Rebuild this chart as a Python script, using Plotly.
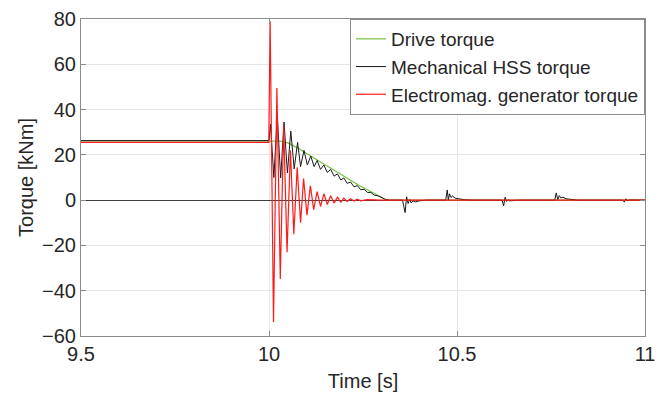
import plotly.graph_objects as go

# ---------------- data ----------------
t_drive = [9.5, 10.0, 10.03, 10.05, 10.075, 10.10, 10.14, 10.18, 10.21, 10.24, 10.27, 10.29, 10.31, 10.32, 11.0]
v_drive = [26.2, 26.2, 26.1, 25.3, 23.2, 20.6, 16.5, 12.3, 9.4, 6.5, 3.8, 1.9, 0.3, 0.0, 0.0]

t_mech = [9.5, 10.0, 10.004, 10.013, 10.022, 10.031, 10.040, 10.049, 10.058, 10.067,
          10.076, 10.084, 10.093, 10.102, 10.111, 10.120, 10.128, 10.137, 10.146, 10.155,
          10.164, 10.173, 10.182, 10.191, 10.199, 10.208, 10.217, 10.226, 10.235, 10.244,
          10.253, 10.262, 10.271, 10.28, 10.29, 10.30, 10.31, 10.32,
          10.355, 10.362, 10.366, 10.370, 10.374, 10.378, 10.383, 10.39, 10.40, 10.42,
          10.47, 10.474, 10.477, 10.480, 10.484, 10.488, 10.495, 10.505, 10.52, 10.54,
          10.62, 10.624, 10.628, 10.632, 10.636, 10.64, 10.65, 10.665,
          10.76, 10.764, 10.768, 10.772, 10.776, 10.782, 10.79, 10.80, 10.82,
          10.94, 10.945, 10.949, 10.953, 10.96, 10.97, 11.0]
v_mech = [26.3, 26.3, 33.5, 10.0, 37.5, 9.8, 34.5, 12.0, 30.5, 13.8,
          25.5, 14.8, 22.0, 15.5, 19.5, 14.8, 17.5, 13.6, 15.5, 12.2,
          13.6, 10.6, 11.6, 8.9, 9.8, 7.4, 8.0, 5.9, 6.4, 4.6,
          4.8, 3.4, 3.4, 2.2, 1.9, 1.0, 0.3, 0.0,
          0.0, -5.5, 1.5, -1.5, 0.3, -1.2, -0.3, -0.8, -0.3, 0.0,
          0.0, 4.5, 0.0, 2.8, 1.2, 1.8, 0.9, 0.6, 0.2, 0.0,
          0.0, -2.5, 1.3, -0.6, 0.2, -0.3, -0.1, 0.0,
          0.0, 3.2, 0.2, 2.0, 1.0, 1.3, 0.6, 0.3, 0.0,
          0.0, -0.8, 0.6, -0.2, 0.1, 0.0, 0.0]

t_em = [9.5, 9.9995, 10.003, 10.012, 10.021, 10.030, 10.039, 10.048, 10.057, 10.066,
        10.075, 10.084, 10.092, 10.101, 10.110, 10.119, 10.128, 10.137, 10.146, 10.155,
        10.164, 10.173, 10.182, 10.191, 10.199, 10.208, 10.217, 10.226, 10.235, 10.244,
        10.26, 10.30, 11.0]
v_em = [25.5, 25.5, 79.0, -53.8, 49.5, -34.8, 33.0, -23.0, 22.0, -15.0,
        14.5, -10.0, 9.5, -6.6, 6.3, -4.2, 3.8, -2.8, 2.8, -1.9,
        1.9, -1.3, 1.3, -0.9, 0.9, -0.6, 0.6, -0.4, 0.4, -0.3,
        0.2, 0.0, 0.0]

x_ticks = [9.5, 10, 10.5, 11]
x_ticklabels = ["9.5", "10", "10.5", "11"]
y_ticks = [-60, -40, -20, 0, 20, 40, 60, 80]

# ---------------- figure ----------------
FONT = "Liberation Sans, Arial, Helvetica, sans-serif"

fig = go.Figure()
fig.add_trace(go.Scatter(x=t_drive, y=v_drive, mode="lines", name="Drive torque",
                         line=dict(color="#77bf40", width=1.2)))
fig.add_trace(go.Scatter(x=t_mech, y=v_mech, mode="lines", name="Mechanical HSS torque",
                         line=dict(color="#1a1a1a", width=1)))
fig.add_trace(go.Scatter(x=t_em, y=v_em, mode="lines", name="Electromag. generator torque",
                         line=dict(color="#ff1a1a", width=1.2)))

axis_common = dict(showline=True, linecolor="#8c8c8c", linewidth=1, mirror="ticks",
                   ticks="inside", ticklen=5, tickcolor="#8c8c8c",
                   showgrid=True, gridcolor="#e6e6e6", gridwidth=1,
                   automargin=False,
                   tickfont=dict(family=FONT, size=20, color="#262626"),
                   title_font=dict(family=FONT, size=20, color="#262626"))

fig.update_xaxes(range=[9.5, 11], tickvals=x_ticks, ticktext=x_ticklabels,
                 zeroline=False, title_text="Time [s]", title_standoff=9, **axis_common)
fig.update_yaxes(range=[-60, 80], tickvals=y_ticks, zeroline=True,
                 zerolinecolor="#404040", zerolinewidth=1,
                 title_text="Torque [kNm]", title_standoff=3, **axis_common)

# the page body adds an 8px offset, so the figure is sized to fit the window
fig.update_layout(
    width=657, height=394,
    margin=dict(l=73, r=20, t=11, b=66),
    plot_bgcolor="white", paper_bgcolor="white",
    font=dict(family=FONT, color="#262626"),
    legend=dict(x=1, y=1, xanchor="right", yanchor="top",
                bgcolor="white", bordercolor="#8c8c8c", borderwidth=1,
                font=dict(family=FONT, size=19, color="#262626"),
                tracegroupgap=0),
    showlegend=True,
)

fig.write_html("out.html")
